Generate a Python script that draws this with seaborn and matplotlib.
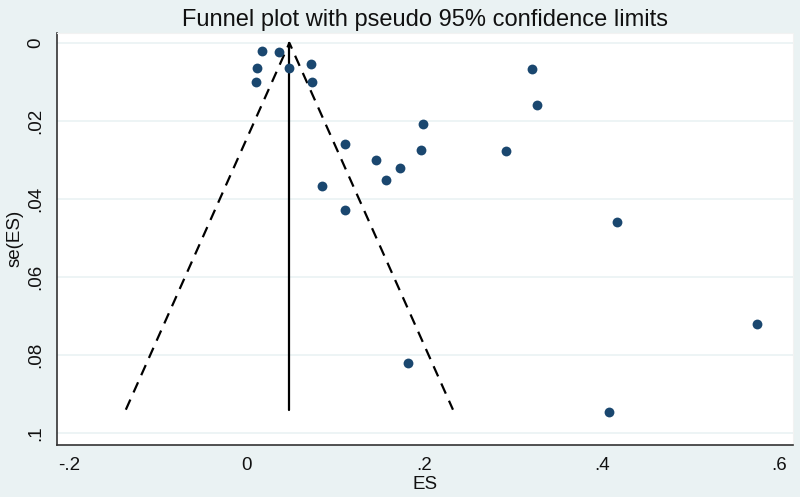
import numpy as np
import pandas as pd
import matplotlib
matplotlib.use('Agg')
import matplotlib.pyplot as plt
import seaborn as sns

# study effect sizes and standard errors
es_values = [0.017, 0.036, 0.011, 0.010, 0.048, 0.072, 0.074,
             0.111, 0.085, 0.145, 0.157, 0.173, 0.198, 0.196,
             0.292, 0.321, 0.327, 0.111, 0.417, 0.575, 0.182, 0.408]
se_values = [0.0021, 0.0022, 0.0065, 0.0100, 0.0063, 0.0055, 0.0100,
             0.0260, 0.0367, 0.0300, 0.0350, 0.0320, 0.0208, 0.0274,
             0.0277, 0.0067, 0.0158, 0.0428, 0.0460, 0.0720, 0.0820, 0.0946]

pooled_es = 0.048
se_limits = [0.0, 0.094]

x_ticks = [-0.2, 0, 0.2, 0.4, 0.6]
x_labels = ['-.2', '0', '.2', '.4', '.6']
y_ticks = [0, 0.02, 0.04, 0.06, 0.08, 0.1]
y_labels = ['0', '.02', '.04', '.06', '.08', '.1']


def main():
    df = pd.DataFrame({'ES': es_values, 'se': se_values})

    # pseudo 95% limits
    se_arr = np.array(se_limits)
    df_funnel = pd.DataFrame({
        'se': np.concatenate([se_arr[::-1], se_arr]),
        'ES': np.concatenate([pooled_es - 1.96 * se_arr[::-1], pooled_es + 1.96 * se_arr]),
    })

    sns.set_style('white')
    plt.rcParams['font.family'] = ['Liberation Sans', 'DejaVu Sans']

    cor_fundo = '#EAF2F3'
    cor_ponto = '#1A476F'

    fig = plt.figure(figsize=(8, 4.97), dpi=100)
    fig.patch.set_facecolor(cor_fundo)
    ax = fig.add_axes([0.071, 0.105, 0.920, 0.829])
    ax.set_facecolor('white')

    for yt in y_ticks:
        ax.axhline(yt, color='#EAF2F3', lw=1.2, zorder=0)

    sns.lineplot(data=df_funnel, x='ES', y='se', sort=False, color='black',
                 lw=1.6, ax=ax, estimator=None, zorder=2)
    ax.lines[-1].set_dashes([5, 3.5])
    ax.plot([pooled_es, pooled_es], se_limits, color='black', lw=1.6, zorder=2)

    sns.scatterplot(data=df, x='ES', y='se', color=cor_ponto, s=50,
                    edgecolor=cor_ponto, linewidth=0, ax=ax, zorder=3)

    ax.set_xlim(-0.214, 0.615)
    ax.set_ylim(0.103, -0.0026)

    ax.set_xticks(x_ticks)
    ax.set_xticklabels(x_labels)
    ax.set_yticks(y_ticks)
    ax.set_yticklabels(y_labels, rotation=90, va='center')
    ax.tick_params(axis='both', direction='out', length=5, width=1, color='#333333',
                   labelsize=13.5, labelcolor='#111111', pad=4)
    ax.tick_params(axis='x', pad=4)

    ax.set_xlabel('ES', fontsize=13.5, labelpad=1, color='#111111')
    ax.set_ylabel('se(ES)', fontsize=13.5, labelpad=3, color='#111111')
    ax.set_title('Funnel plot with pseudo 95% confidence limits', fontsize=17,
                 color='#111111', pad=5)

    for lado in ['top', 'right']:
        ax.spines[lado].set_color('#F2F2F2')
    for lado in ['left', 'bottom']:
        ax.spines[lado].set_color('#333333')
        ax.spines[lado].set_linewidth(1.2)

    fig.savefig('out.png', dpi=100, facecolor=fig.get_facecolor())


if __name__ == '__main__':
    main()
